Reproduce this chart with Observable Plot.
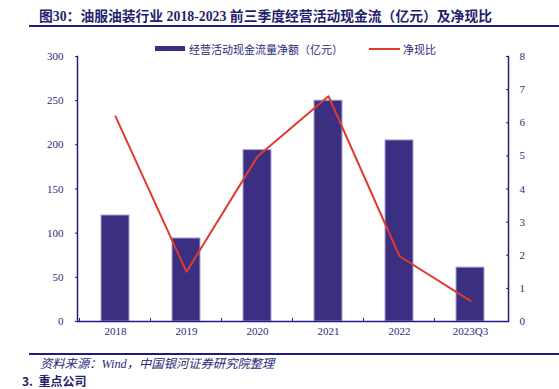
<!DOCTYPE html>
<html>
<head>
<meta charset="utf-8">
<script src="https://cdn.jsdelivr.net/npm/d3@7"></script>
<script src="https://cdn.jsdelivr.net/npm/@observablehq/plot@0.6"></script>
<style>
  html, body { margin: 0; padding: 0; background: #fff; }
  #wrap { position: relative; width: 559px; height: 389px; overflow: hidden; background: #fff; }
  .abs { position: absolute; white-space: nowrap; }
  #title { left: 39px; top: 5px; font: bold 13.8px "Liberation Serif", "Noto Sans CJK SC", serif; color: #1f1f6e; }
  #trule { left: 29px; top: 25px; width: 530px; height: 2px; background: #1d1d7a; }
  #chart { left: 0; top: 30px; }
  .leg { font: 11px "Noto Sans CJK SC", sans-serif; color: #2a2a7a; }
  #srule { left: 29px; top: 353px; width: 530px; height: 1.5px; background: #1d1d7a; }
  #source { left: 40px; top: 357px; font: italic 12.3px/14px "Liberation Serif", "Noto Sans CJK SC", serif; color: #2a2a7a; }
  #next { left: 22px; top: 375px; font: bold 12px/12px "Noto Sans CJK SC", sans-serif; color: #1f1f6e; }
</style>
</head>
<body>
<div id="wrap">
  <div class="abs" id="title">图30：油服油装行业 2018-2023 前三季度经营活动现金流（亿元）及净现比</div>
  <div class="abs" id="trule"></div>
  <div class="abs" id="chart"></div>
  <div class="abs" style="left:155px;top:46px;width:30px;height:5px;background:#3b2f82;"></div>
  <div class="abs leg" style="left:189px;top:41px;">经营活动现金流量净额（亿元）</div>
  <div class="abs" style="left:369px;top:48px;width:31px;height:2px;background:#e03a2f;"></div>
  <div class="abs leg" style="left:403px;top:41px;">净现比</div>
  <div class="abs" id="srule"></div>
  <div class="abs" id="source">资料来源：Wind，中国银河证券研究院整理</div>
  <div class="abs" id="next">3.&nbsp;&nbsp;重点公司</div>
</div>
<script>
const categories = ["2018", "2019", "2020", "2021", "2022", "2023Q3"];
const cashFlow = [120, 94, 194, 250, 205, 61];
const ratio = [6.19, 1.5, 4.98, 6.8, 1.97, 0.62];
const leftTicks = [0, 50, 100, 150, 200, 250, 300];
const rightTicks = [0, 1, 2, 3, 4, 5, 6, 7, 8];

const leftMax = 300, rightMax = 8;
const k = leftMax / rightMax;
const data = categories.map((c, i) => ({cat: c, value: cashFlow[i], ratio: ratio[i]}));

const navy = "#1d1d8a";
const chart = Plot.plot({
  width: 559,
  height: 325,
  marginTop: 26,
  marginBottom: 34,
  marginLeft: 77,
  marginRight: 51,
  style: {fontFamily: "Liberation Serif, serif", fontSize: "11px", color: "#2a2a7a", background: "transparent"},
  x: {domain: categories, paddingInner: 0.6, paddingOuter: 0.3, label: null},
  y: {domain: [0, leftMax], label: null},
  marks: [
    Plot.barY(data, {x: "cat", y: "value", fill: "#3b2f82", stroke: "#a9a4d6", strokeWidth: 1}),
    Plot.line(data, {x: "cat", y: d => d.ratio * k, stroke: "#e03a2f", strokeWidth: 2}),
    Plot.ruleX(categories, {x: d => d, y1: 0, y2: 3.5, dx: -36, stroke: navy}),
    Plot.ruleY([0], {stroke: navy, strokeWidth: 1.5}),
    Plot.frame({anchor: "left", stroke: navy, strokeWidth: 1.5}),
    Plot.frame({anchor: "right", stroke: navy, strokeWidth: 1.5}),
    Plot.axisY({anchor: "left", ticks: leftTicks, tickSize: 2, tickPadding: 12, stroke: navy, label: null}),
    Plot.axisY({anchor: "right", ticks: rightTicks.map(v => v * k), tickFormat: d => String(d / k), tickSize: -3, tickPadding: 14, stroke: navy, label: null}),
    Plot.axisX({tickSize: 0, tickPadding: 6, label: null})
  ]
});
document.getElementById("chart").appendChild(chart);
</script>
</body>
</html>
